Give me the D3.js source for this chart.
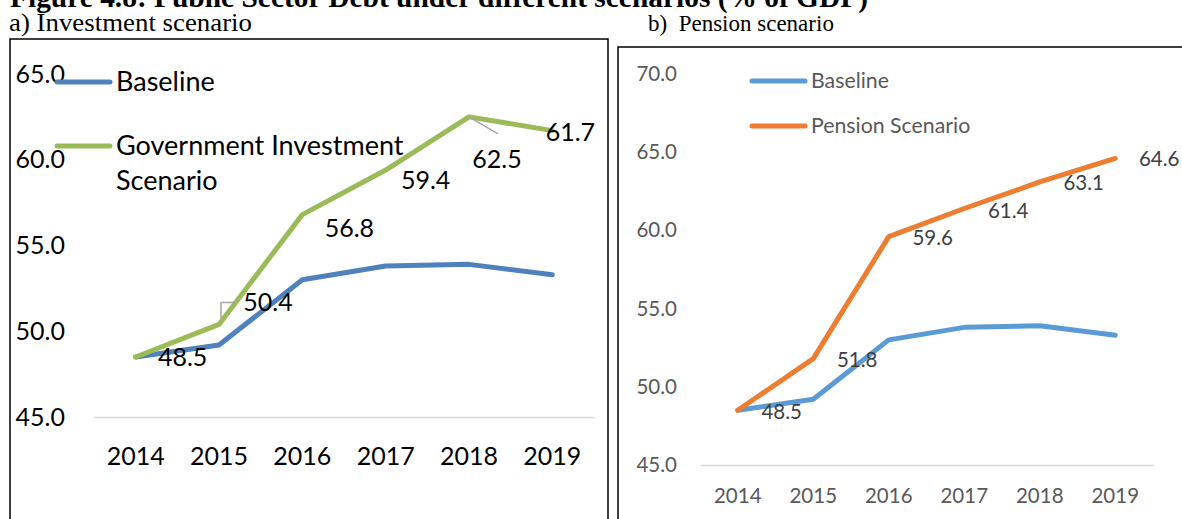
<!DOCTYPE html>
<html>
<head>
<meta charset="utf-8">
<script src="https://cdn.jsdelivr.net/npm/d3@7"></script>
<style>
  body { margin: 0; background: #fff; }
  svg { display: block; }
</style>
</head>
<body>
<svg id="chart" width="1182" height="519"></svg>
<script>
var years = ['2014', '2015', '2016', '2017', '2018', '2019'];
var baseline = [48.5, 49.2, 53.0, 53.8, 53.9, 53.3];
var govInvestment = [48.5, 50.4, 56.8, 59.4, 62.5, 61.7];
var pension = [48.5, 51.8, 59.6, 61.4, 63.1, 64.6];
var ticksA = [45, 50, 55, 60, 65];
var ticksB = [45, 50, 55, 60, 65, 70];

// label nudges (px from the point), labels were dragged by hand in the original
var labelOffsetA = [[47, 0], [49, -22], [47, 14], [40, 10], [28, 42], [18, 2]];
var labelOffsetB = [[44, 2], [44, 1], [44, 1], [44, 2], [44, 1], [44, 0]];

var svg = d3.select('#chart');

svg.append('text')
  .attr('x', 10).attr('y', 7)
  .attr('font-family', 'Liberation Serif').attr('font-weight', 'bold')
  .attr('font-size', 29)
  .attr('textLength', 858).attr('lengthAdjust', 'spacingAndGlyphs')
  .text('Figure 4.8: Public Sector Debt under different scenarios (% of GDP)');

svg.append('text')
  .attr('x', 9).attr('y', 31)
  .attr('font-family', 'Liberation Serif').attr('font-size', 26)
  .attr('textLength', 243).attr('lengthAdjust', 'spacingAndGlyphs')
  .text('a) Investment scenario');

svg.append('text')
  .attr('x', 648).attr('y', 31)
  .attr('font-family', 'Liberation Serif').attr('font-size', 23)
  .attr('xml:space', 'preserve')
  .text('b)  Pension scenario');

// frames
svg.append('rect').attr('x', 10).attr('y', 39).attr('width', 598).attr('height', 520)
  .attr('fill', 'none').attr('stroke', '#000').attr('stroke-width', 1.5);
svg.append('rect').attr('x', 618).attr('y', 47).attr('width', 620).attr('height', 520)
  .attr('fill', 'none').attr('stroke', '#000').attr('stroke-width', 1.5);

function drawPanel(g, cfg){
  var x = d3.scaleBand().domain(years).range(cfg.xRange);
  var y = d3.scaleLinear().domain(cfg.yDomain).range(cfg.yRange);
  var cx = d => x(d) + x.bandwidth() / 2;

  // y labels only, no axis line
  var yAxis = g.append('g')
    .attr('transform', 'translate(' + cfg.xRange[0] + ',0)')
    .call(d3.axisLeft(y).tickValues(cfg.ticks).tickFormat(d3.format('.1f'))
      .tickSize(0).tickPadding(cfg.yPad));
  yAxis.select('.domain').remove();
  yAxis.selectAll('text')
    .attr('font-family', 'Lato').attr('font-size', cfg.fontSize).attr('fill', cfg.textColor);

  var xAxis = g.append('g')
    .attr('transform', 'translate(0,' + y(cfg.yDomain[0]) + ')')
    .call(d3.axisBottom(x).tickSize(0).tickSizeOuter(0));
  xAxis.select('.domain').attr('stroke', '#d9d9d9').attr('stroke-width', 1.5);
  xAxis.selectAll('text')
    .attr('y', cfg.xLabelDy).attr('dy', '0.35em')
    .attr('font-family', 'Lato').attr('font-size', cfg.fontSize).attr('fill', cfg.textColor);

  var line = d3.line().x((d, i) => cx(years[i])).y(d => y(d));

  cfg.series.forEach(s => {
    g.append('path')
      .datum(s.values)
      .attr('d', line)
      .attr('fill', 'none')
      .attr('stroke', s.color)
      .attr('stroke-width', 5)
      .attr('stroke-linecap', 'round')
      .attr('stroke-linejoin', 'round');
  });

  // leader lines
  cfg.leaders.forEach(l => {
    var px = cx(years[l.i]), py = y(cfg.labelValues[l.i]);
    g.append('path')
      .attr('d', d3.line()(l.pts.map(p => [px + p[0], py + p[1]])))
      .attr('fill', 'none').attr('stroke', '#a6a6a6').attr('stroke-width', 1.5);
  });

  g.selectAll('.dlabel')
    .data(cfg.labelValues)
    .enter()
    .append('text')
      .classed('dlabel', true)
      .attr('x', (d, i) => cx(years[i]) + cfg.labelOffset[i][0])
      .attr('y', (d, i) => y(d) + cfg.labelOffset[i][1])
      .attr('dy', '0.35em')
      .attr('text-anchor', 'middle')
      .attr('font-family', 'Lato').attr('font-size', cfg.fontSize)
      .attr('fill', cfg.labelColor)
      .text(d => d.toFixed(1));

  // legend
  var leg = g.append('g');
  cfg.legend.forEach(item => {
    leg.append('line')
      .attr('x1', cfg.legendX[0]).attr('x2', cfg.legendX[1])
      .attr('y1', item.y).attr('y2', item.y)
      .attr('stroke', item.color).attr('stroke-width', 5)
      .attr('stroke-linecap', 'round');
    item.lines.forEach((t, k) => {
      leg.append('text')
        .attr('x', cfg.legendX[1] + 6)
        .attr('y', item.y + k * cfg.legendLineHeight)
        .attr('dy', '0.35em')
        .attr('font-family', 'Lato').attr('font-size', cfg.legendFont)
        .attr('fill', cfg.textColor)
        .text(t);
    });
  });
}

drawPanel(svg.append('g'), {
  xRange: [94, 594],
  yDomain: [45, 65],
  yRange: [417, 74],
  ticks: ticksA,
  yPad: 29,
  xLabelDy: 39,
  fontSize: 25,
  legendFont: 27,
  legendLineHeight: 35,
  textColor: '#000',
  labelColor: '#000',
  series: [
    { values: baseline, color: '#4f81bd' },
    { values: govInvestment, color: '#9bbb59' }
  ],
  labelValues: govInvestment,
  labelOffset: labelOffsetA,
  leaders: [
    { i: 1, pts: [[2, -6], [2, -22], [16, -22]] },
    { i: 4, pts: [[0, 0], [29, 17]] }
  ],
  legendX: [57, 110],
  legend: [
    { y: 82, color: '#4f81bd', lines: ['Baseline'] },
    { y: 146, color: '#9bbb59', lines: ['Government Investment', 'Scenario'] }
  ]
});

drawPanel(svg.append('g'), {
  xRange: [700, 1153],
  yDomain: [45, 70],
  yRange: [465, 74],
  ticks: ticksB,
  yPad: 23,
  xLabelDy: 31,
  fontSize: 20.5,
  legendFont: 21.3,
  legendLineHeight: 0,
  textColor: '#595959',
  labelColor: '#404040',
  series: [
    { values: baseline, color: '#5b9bd5' },
    { values: pension, color: '#ed7d31' }
  ],
  labelValues: pension,
  labelOffset: labelOffsetB,
  leaders: [],
  legendX: [752, 805],
  legend: [
    { y: 81, color: '#5b9bd5', lines: ['Baseline'] },
    { y: 126, color: '#ed7d31', lines: ['Pension Scenario'] }
  ]
});
</script>
</body>
</html>
